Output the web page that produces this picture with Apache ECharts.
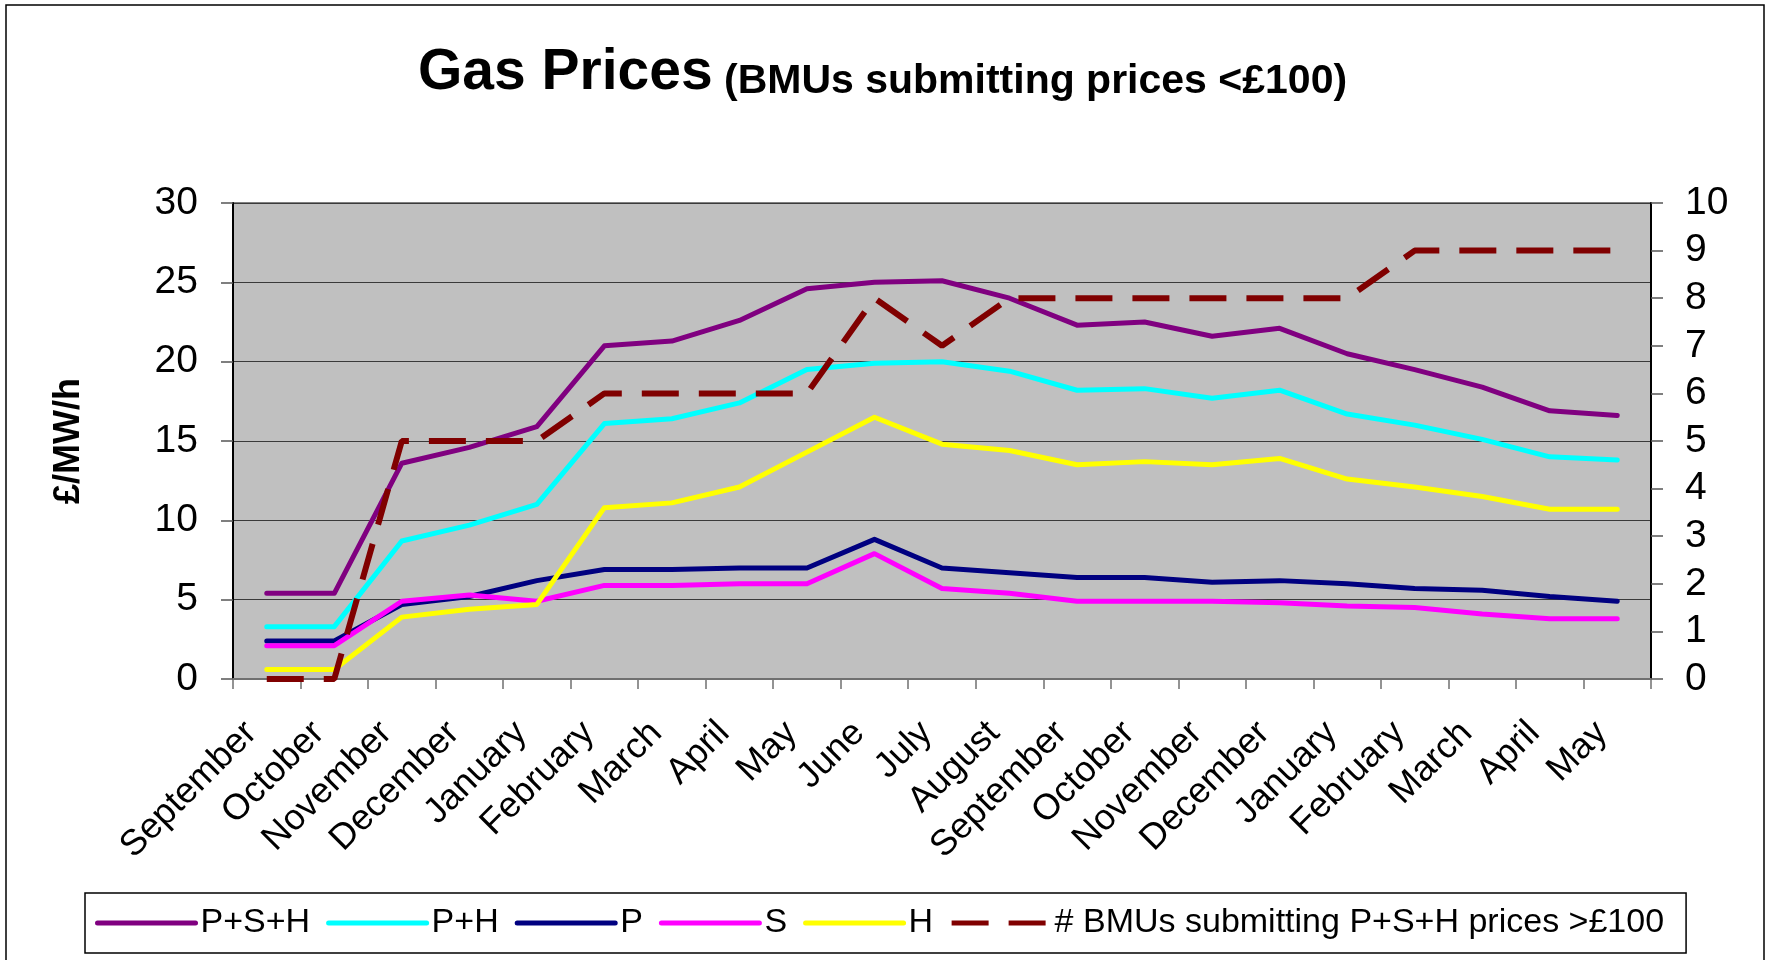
<!DOCTYPE html>
<html>
<head>
<meta charset="utf-8">
<title>Gas Prices</title>
<script src="https://cdn.jsdelivr.net/npm/echarts@6/dist/echarts.min.js"></script>
<style>
  html, body { margin: 0; padding: 0; background: #fff; }
  #chart { width: 1765px; height: 960px; }
</style>
</head>
<body>
<div id="chart"></div>
<script>
// months along the bottom (two seasons)
var months = ['September', 'October', 'November', 'December', 'January', 'February', 'March',
  'April', 'May', 'June', 'July', 'August', 'September', 'October', 'November', 'December',
  'January', 'February', 'March', 'April', 'May'];

// £/MW/h, left axis
var psh = [5.4, 5.4, 13.6, 14.6, 15.9, 21.0, 21.3, 22.6, 24.6, 25.0, 25.1, 24.0, 22.3, 22.5, 21.6, 22.1, 20.5, 19.5, 18.4, 16.9, 16.6];
var ph  = [3.3, 3.3, 8.7, 9.7, 11.0, 16.1, 16.4, 17.4, 19.5, 19.9, 20.0, 19.4, 18.2, 18.3, 17.7, 18.2, 16.7, 16.0, 15.1, 14.0, 13.8];
var p   = [2.4, 2.4, 4.7, 5.2, 6.2, 6.9, 6.9, 7.0, 7.0, 8.8, 7.0, 6.7, 6.4, 6.4, 6.1, 6.2, 6.0, 5.7, 5.6, 5.2, 4.9];
var s   = [2.1, 2.1, 4.9, 5.3, 4.9, 5.9, 5.9, 6.0, 6.0, 7.9, 5.7, 5.4, 4.9, 4.9, 4.9, 4.8, 4.6, 4.5, 4.1, 3.8, 3.8];
var h   = [0.6, 0.6, 3.9, 4.4, 4.7, 10.8, 11.1, 12.1, 14.3, 16.5, 14.8, 14.4, 13.5, 13.7, 13.5, 13.9, 12.6, 12.1, 11.5, 10.7, 10.7];

// count of BMUs above £100, right axis
var bmuOver100 = [0, 0, 5, 5, 5, 6, 6, 6, 6, 8, 7, 8, 8, 8, 8, 8, 8, 9, 9, 9, 9];

var FONT = '"Liberation Sans", Arial, sans-serif';

var chart = echarts.init(document.getElementById('chart'));

function solidLine(name, data, color) {
  return {
    name: name,
    type: 'line',
    data: data,
    symbol: 'none',
    color: color,
    lineStyle: { color: color, width: 5, cap: 'round', join: 'round' }
  };
}

var option = {
  animation: false,
  backgroundColor: '#fff',
  textStyle: { fontFamily: FONT },
  title: {
    left: 'center',
    top: 40,
    text: '{a|Gas Prices}{b| (BMUs submitting prices <£100)}',
    textStyle: {
      rich: {
        a: { fontFamily: FONT, fontSize: 57, fontWeight: 'bold', color: '#000', lineHeight: 57, verticalAlign: 'bottom' },
        b: { fontFamily: FONT, fontSize: 41, fontWeight: 'bold', color: '#000', lineHeight: 57, verticalAlign: 'bottom' }
      }
    }
  },
  graphic: [{
    type: 'rect',
    shape: { x: 6, y: 5, width: 1758, height: 1000 },
    style: { fill: 'none', stroke: '#000', lineWidth: 1.5 },
    silent: true
  }],
  legend: {
    left: 85,
    top: 893,
    padding: [13, 22, 13, 10],
    borderColor: '#000',
    borderWidth: 1.5,
    itemWidth: 98,
    itemHeight: 14,
    itemGap: 16,
    itemStyle: { opacity: 0 },
    lineStyle: { width: 5 },
    textStyle: { fontFamily: FONT, fontSize: 34, color: '#000' },
    data: ['P+S+H', 'P+H', 'P', 'S', 'H', '# BMUs submitting P+S+H prices >£100']
  },
  grid: {
    left: 233,
    right: 114,
    top: 203,
    bottom: 281,
    show: true,
    backgroundColor: '#c0c0c0',
    borderColor: '#808080',
    borderWidth: 2
  },
  xAxis: {
    type: 'category',
    data: months,
    boundaryGap: true,
    axisLine: { show: true, lineStyle: { color: '#707070', width: 2 } },
    axisTick: { show: true, interval: 0, length: 10, lineStyle: { color: '#707070', width: 1.5 } },
    axisLabel: { interval: 0, rotate: 45, margin: 33, padding: [0, 22, 0, 0], fontFamily: FONT, fontSize: 36, color: '#000' },
    splitLine: { show: false }
  },
  yAxis: [{
    type: 'value',
    min: 0,
    max: 30,
    interval: 5,
    name: '£/MW/h',
    nameLocation: 'middle',
    nameGap: 146,
    nameRotate: 90,
    nameTextStyle: { fontFamily: FONT, fontSize: 36, fontWeight: 'bold', color: '#000' },
    axisLine: { show: true, lineStyle: { color: '#000', width: 2 } },
    axisTick: { show: true, length: 12, lineStyle: { color: '#555', width: 1.5 } },
    axisLabel: { margin: 35, fontFamily: FONT, fontSize: 39, color: '#000' },
    splitLine: { show: true, lineStyle: { color: '#3a3a3a', width: 1.2 } }
  }, {
    type: 'value',
    min: 0,
    max: 10,
    interval: 1,
    position: 'right',
    axisLine: { show: true, lineStyle: { color: '#000', width: 2 } },
    axisTick: { show: true, length: 12, lineStyle: { color: '#555', width: 1.5 } },
    axisLabel: { margin: 34, fontFamily: FONT, fontSize: 39, color: '#000' },
    splitLine: { show: false }
  }],
  series: [
    solidLine('P+S+H', psh, '#800080'),
    solidLine('P+H', ph, '#00ffff'),
    solidLine('P', p, '#000080'),
    solidLine('S', s, '#ff00ff'),
    solidLine('H', h, '#ffff00'),
    {
      name: '# BMUs submitting P+S+H prices >£100',
      type: 'line',
      yAxisIndex: 1,
      data: bmuOver100,
      symbol: 'none',
      color: '#800000',
      lineStyle: { color: '#800000', width: 6, type: [37, 20], cap: 'butt' }
    }
  ]
};

chart.setOption(option);
</script>
</body>
</html>
